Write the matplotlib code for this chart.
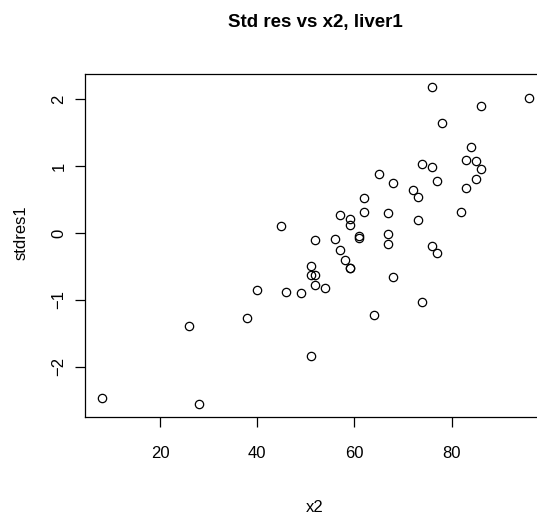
import matplotlib
matplotlib.use('Agg')
import matplotlib.pyplot as plt

# data
x2 = [8, 26, 28, 38, 40, 45, 46, 49, 51, 51, 51, 52, 52, 52, 54, 56, 57, 57,
      58, 59, 59, 59, 59, 61, 61, 62, 62, 64, 65, 67, 67, 67, 68, 68, 72, 73,
      73, 74, 74, 76, 76, 76, 77, 77, 78, 82, 83, 83, 84, 85, 85, 86, 86, 96]
stdres1 = [-2.47, -1.39, -2.56, -1.27, -0.86, 0.11, -0.89, -0.90, -0.49, -0.63,
           -1.84, -0.63, -0.78, -0.11, -0.83, -0.09, 0.27, -0.26, -0.41, -0.52,
           -0.53, 0.21, 0.12, -0.05, -0.07, 0.53, 0.31, -1.23, 0.89, 0.30,
           -0.02, -0.16, 0.75, -0.66, 0.65, 0.54, 0.20, 1.03, -1.03, 2.19,
           0.99, -0.20, 0.78, -0.30, 1.65, 0.32, 1.09, 0.68, 1.28, 1.08, 0.81,
           1.90, 0.95, 2.02]
xticks = [20, 40, 60, 80]
yticks = [-2, -1, 0, 1, 2]

plt.rcParams['font.family'] = ['Liberation Sans', 'DejaVu Sans']

W, H = 537, 516
fig = plt.figure(figsize=(W / 100, H / 100), dpi=100)
# right side of the box runs past the edge, as in the reference
ax = fig.add_axes([0.1575, 0.1924, 0.860, 0.6643])

ax.plot(x2, stdres1, 'o', mfc='none', mec='black', ms=6, mew=0.9)

# R style 4% padding
xr = max(x2) - min(x2)
yr = max(stdres1) - min(stdres1)
ax.set_xlim(min(x2) - 0.04 * xr, max(x2) + 0.04 * xr)
ax.set_ylim(min(stdres1) - 0.04 * yr, max(stdres1) + 0.04 * yr)

ax.set_xticks(xticks)
ax.set_yticks(yticks)
ax.set_yticklabels([str(t).replace('-', '\u2212') for t in yticks], rotation=90, va='center')
ax.tick_params(length=7, width=0.9, labelsize=12)
ax.tick_params(axis='x', pad=14)
ax.tick_params(axis='y', pad=6)
for s in ax.spines.values():
    s.set_linewidth(0.9)

fig.text(315 / W, 1 - 507 / H, 'x2', fontsize=12, ha='center', va='center')
fig.text(21 / W, 1 - 233 / H, 'stdres1', fontsize=12, rotation=90, ha='center', va='center')
fig.text(315 / W, 1 - 22.5 / H, 'Std res vs x2, liver1', fontsize=13.5,
         fontweight='bold', ha='center', va='center')

fig.savefig('out.png', dpi=100)
